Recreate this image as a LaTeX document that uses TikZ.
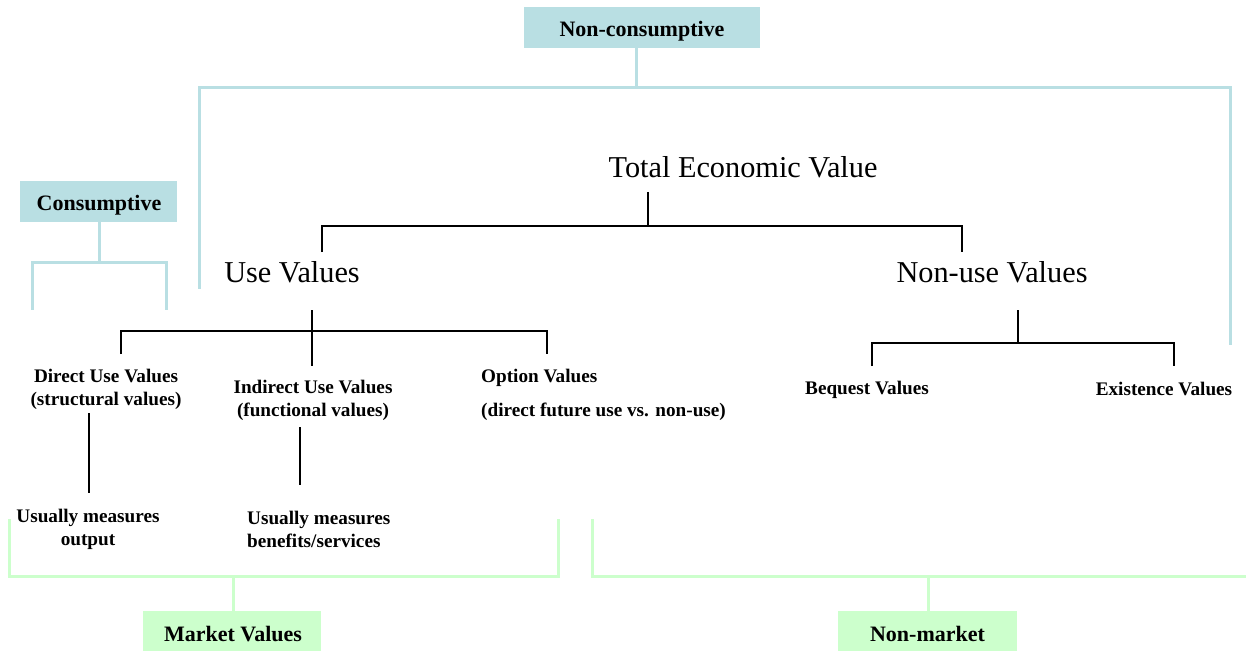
\documentclass[tikz,border=0pt]{standalone}
\usepackage{fontspec}
\setmainfont{Liberation Serif}
\definecolor{cyanl}{RGB}{185,223,227}
\definecolor{greenl}{RGB}{204,255,204}
\begin{document}
\begin{tikzpicture}[x=1pt,y=-1pt,
  cline/.style={draw=cyanl, line width=3pt},
  gline/.style={draw=greenl, line width=3pt},
  bline/.style={draw=black, line width=1.2pt},
  boxfill/.style={inner sep=0pt},
  boxlbl/.style={inner sep=0pt, font=\fontsize{22}{26}\selectfont\bfseries},
  big/.style={inner sep=0pt, font=\fontsize{30.3}{35}\selectfont},
  small/.style={inner sep=0pt, font=\fontsize{19.2}{23}\selectfont\bfseries, align=center}
]
\useasboundingbox (0,0) rectangle (1246,652);
% boxes
\node[boxfill, fill=cyanl, minimum width=236pt, minimum height=41pt] (ncbox) at (642,27.5) {};
\node[boxlbl] (nctxt) at (642,31) {Non-consumptive};
\node[boxfill, fill=cyanl, minimum width=157pt, minimum height=41pt] (cbox) at (98.5,201.5) {};
\node[boxlbl] (ctxt) at (99,205) {Consumptive};
\node[boxfill, fill=greenl, minimum width=178pt, minimum height=40pt] (mbox) at (232,631) {};
\node[boxlbl] (mtxt) at (233,634) {Market Values};
\node[boxfill, fill=greenl, minimum width=179pt, minimum height=40pt] (nmbox) at (927.5,631) {};
\node[boxlbl] (nmtxt) at (927.5,634) {Non-market};
% main labels
\node[big] (tev) at (743,167) {Total Economic Value};
\node[big] (use) at (292,272) {Use Values};
\node[big] (nonuse) at (992,272) {Non-use Values};
\node[small] (direct) at (106,389) {Direct Use Values\\(structural values)};
\node[small] (indirect) at (313,400) {Indirect Use Values\\(functional values)};
\node[small, align=left, anchor=west] (option) at (481,395) {Option Values\\[11pt](direct future use vs. non-use)};
\node[small] (outd) at (88,529) {Usually measures\\output};
\node[small, align=left, anchor=west] (outi) at (247,529) {Usually measures\\benefits/services};
\node[small] (bequest) at (867,390) {Bequest Values};
\node[small] (exist) at (1164,389) {Existence Values};
% junction coordinates
\coordinate (tevb) at (648,192);
\coordinate (tevj) at (648,226);
\coordinate (usej) at (322,252);
\coordinate (nonusej) at (962,252);
\coordinate (useb) at (312,310);
\coordinate (usem) at (312,331);
\coordinate (indt) at (312,366);
\coordinate (dirt) at (121,354);
\coordinate (optt) at (547,354);
\coordinate (dirb) at (89,413);
\coordinate (outdt) at (89,493);
\coordinate (indb) at (300,427);
\coordinate (outit) at (300,485);
\coordinate (nub) at (1018,310);
\coordinate (nuj) at (1018,343);
\coordinate (beqt) at (872,366);
\coordinate (ext) at (1174,366);
% black tree lines
\draw[bline] (tevb) -- (tevj);
\draw[bline] (usej) |- (tevj) -| (nonusej);
\draw[bline] (useb) -- (indt);
\draw[bline] (dirt) |- (usem) -| (optt);
\draw[bline] (dirb) -- (outdt);
\draw[bline] (indb) -- (outit);
\draw[bline] (nub) -- (nuj);
\draw[bline] (beqt) |- (nuj) -| (ext);
% cyan brackets
\coordinate (ncj) at (636,88);
\coordinate (ncl) at (199,287);
\coordinate (ncr) at (1230,343);
\draw[cline] (ncbox.south -| ncj) -- (ncj);
\draw[cline, line cap=rect] (ncl) |- (ncj) -| (ncr);
\coordinate (cj) at (99,262);
\coordinate (cl) at (32,308);
\coordinate (cr) at (166,308);
\draw[cline] (cbox.south -| cj) -- (cj);
\draw[cline, line cap=rect] (cl) |- (cj) -| (cr);
% green brackets
\coordinate (mj) at (233,576);
\coordinate (ml) at (9,520);
\coordinate (mr) at (558,520);
\draw[gline] (mj) -- (mbox.north -| mj);
\draw[gline, line cap=rect] (ml) |- (mj) -| (mr);
\coordinate (nmj) at (928,576);
\coordinate (nml) at (592,519);
\coordinate (nmr) at (1246,576);
\draw[gline] (nmj) -- (nmbox.north -| nmj);
\draw[gline] (nml) |- (nmj) -- (nmr);
\end{tikzpicture}
\end{document}
